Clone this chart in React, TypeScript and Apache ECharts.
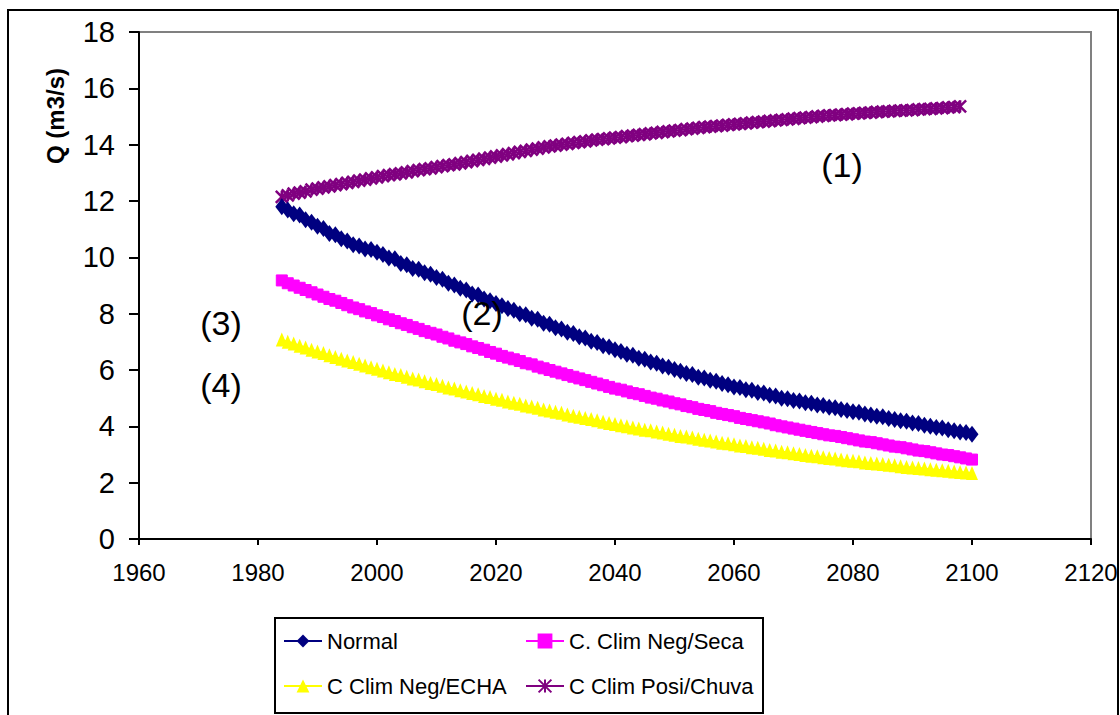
import React, { useEffect, useRef } from "react";
import * as echarts from "echarts";

const startYear = 1984;
const xTicks = [1960, 1980, 2000, 2020, 2040, 2060, 2080, 2100, 2120];
const yTicks = [0, 2, 4, 6, 8, 10, 12, 14, 16, 18];

const seriesNames = ["Normal", "C. Clim Neg/Seca", "C Clim Neg/ECHA", "C Clim Posi/Chuva"];

// 1984..2100
const normal = [
  11.8, 11.68, 11.55, 11.5, 11.33, 11.25, 11.1, 11.02, 10.85, 10.8,
  10.66, 10.58, 10.45, 10.4, 10.3, 10.28, 10.18, 10.1, 9.98, 9.95,
  9.78, 9.74, 9.6, 9.58, 9.45, 9.4, 9.28, 9.22, 9.08, 9.02,
  8.9, 8.84, 8.7, 8.66, 8.52, 8.46, 8.36, 8.28, 8.18, 8.12,
  8.0, 7.96, 7.84, 7.8, 7.66, 7.62, 7.5, 7.46, 7.34, 7.3,
  7.18, 7.14, 7.02, 6.98, 6.86, 6.82, 6.72, 6.66, 6.56, 6.52,
  6.42, 6.38, 6.28, 6.24, 6.14, 6.1, 6.02, 5.96, 5.88, 5.84,
  5.74, 5.72, 5.64, 5.6, 5.52, 5.48, 5.4, 5.38, 5.3, 5.28,
  5.2, 5.18, 5.1, 5.08, 5.0, 4.98, 4.92, 4.9, 4.84, 4.82,
  4.76, 4.74, 4.68, 4.66, 4.6, 4.56, 4.52, 4.5, 4.44, 4.4,
  4.36, 4.34, 4.28, 4.24, 4.2, 4.18, 4.12, 4.1, 4.04, 4.0,
  3.96, 3.94, 3.88, 3.84, 3.8, 3.78, 3.72,
];

// 1984..2100
const seca = [
  9.18, 9.08, 9.0, 8.92, 8.84, 8.76, 8.68, 8.6, 8.52, 8.46,
  8.38, 8.3, 8.22, 8.16, 8.08, 8.02, 7.94, 7.88, 7.8, 7.74,
  7.66, 7.6, 7.52, 7.46, 7.38, 7.32, 7.26, 7.18, 7.12, 7.04,
  6.98, 6.92, 6.84, 6.78, 6.72, 6.64, 6.58, 6.5, 6.44, 6.38,
  6.32, 6.24, 6.2, 6.12, 6.06, 6.0, 5.94, 5.88, 5.82, 5.76,
  5.7, 5.64, 5.58, 5.52, 5.46, 5.4, 5.34, 5.3, 5.24, 5.18,
  5.14, 5.08, 5.02, 4.98, 4.92, 4.88, 4.82, 4.78, 4.72, 4.68,
  4.62, 4.58, 4.54, 4.48, 4.44, 4.4, 4.36, 4.3, 4.26, 4.22,
  4.18, 4.14, 4.1, 4.04, 4.0, 3.96, 3.92, 3.88, 3.84, 3.8,
  3.76, 3.72, 3.68, 3.66, 3.62, 3.58, 3.54, 3.5, 3.46, 3.44,
  3.4, 3.36, 3.32, 3.28, 3.26, 3.22, 3.18, 3.14, 3.12, 3.08,
  3.04, 3.0, 2.98, 2.94, 2.9, 2.86, 2.82,
];

// 1984..2100
const echa = [
  7.08, 7.0, 6.94, 6.86, 6.8, 6.72, 6.66, 6.6, 6.52, 6.46,
  6.4, 6.34, 6.28, 6.22, 6.16, 6.1, 6.04, 5.98, 5.92, 5.86,
  5.82, 5.76, 5.7, 5.66, 5.6, 5.54, 5.5, 5.44, 5.38, 5.34,
  5.28, 5.24, 5.18, 5.14, 5.08, 5.04, 4.98, 4.94, 4.88, 4.84,
  4.8, 4.74, 4.7, 4.66, 4.6, 4.56, 4.52, 4.48, 4.42, 4.38,
  4.34, 4.3, 4.26, 4.22, 4.16, 4.12, 4.08, 4.04, 4.0, 3.96,
  3.92, 3.88, 3.86, 3.82, 3.78, 3.74, 3.7, 3.66, 3.64, 3.6,
  3.56, 3.52, 3.5, 3.46, 3.42, 3.4, 3.36, 3.32, 3.3, 3.26,
  3.24, 3.2, 3.16, 3.14, 3.1, 3.08, 3.04, 3.02, 2.98, 2.96,
  2.94, 2.9, 2.88, 2.86, 2.82, 2.8, 2.78, 2.76, 2.72, 2.7,
  2.68, 2.66, 2.64, 2.62, 2.58, 2.56, 2.54, 2.52, 2.5, 2.48,
  2.46, 2.44, 2.42, 2.4, 2.38, 2.36, 2.34,
];

// 1984..2098
const chuva = [
  12.15, 12.2, 12.26, 12.3, 12.34, 12.4, 12.44, 12.48, 12.52, 12.56,
  12.6, 12.64, 12.68, 12.72, 12.76, 12.8, 12.84, 12.88, 12.92, 12.95,
  12.98, 13.02, 13.06, 13.1, 13.13, 13.16, 13.2, 13.24, 13.27, 13.3,
  13.34, 13.38, 13.42, 13.46, 13.5, 13.54, 13.58, 13.62, 13.66, 13.7,
  13.74, 13.78, 13.82, 13.86, 13.9, 13.94, 13.97, 14.0, 14.03, 14.06,
  14.09, 14.12, 14.15, 14.18, 14.2, 14.22, 14.25, 14.27, 14.3, 14.32,
  14.35, 14.37, 14.4, 14.42, 14.45, 14.47, 14.5, 14.52, 14.55, 14.57,
  14.6, 14.62, 14.64, 14.66, 14.68, 14.7, 14.72, 14.74, 14.76, 14.78,
  14.8, 14.82, 14.84, 14.86, 14.88, 14.9, 14.92, 14.94, 14.96, 14.98,
  15.0, 15.02, 15.04, 15.05, 15.07, 15.08, 15.1, 15.11, 15.13, 15.14,
  15.16, 15.17, 15.18, 15.2, 15.21, 15.22, 15.23, 15.25, 15.26, 15.27,
  15.29, 15.3, 15.32, 15.33, 15.36,
];

const annotations = ["(1)", "(2)", "(3)", "(4)"];

const FONT = "'Liberation Sans', Arial, sans-serif";

const toPairs = (vals: number[]) => vals.map((v, i) => [startYear + i, v]);

export default function App() {
  const ref = useRef<HTMLDivElement>(null);
  useEffect(() => {
    document.body.style.margin = "0";
    if (!ref.current) return;
    const chart = echarts.init(ref.current, null, { renderer: "svg" });
    const legendText = { fontFamily: FONT, fontSize: 22, color: "#000" };
    const mkLegend = (name: string, left: number, top: number) => ({
      data: [name],
      left,
      top,
      orient: "horizontal",
      itemWidth: 38,
      itemHeight: 16,
      textStyle: legendText,
      padding: 0,
      z: 5,
    });
    const annot = (text: string, x: number, y: number) => ({
      type: "text",
      x,
      y,
      z: 10,
      style: { text, font: `34px ${FONT}`, fill: "#000", align: "center", verticalAlign: "middle" },
    });
    const option: any = {
      animation: false,
      backgroundColor: "#fff",
      grid: {
        left: 139,
        top: 32,
        right: 29,
        bottom: 176,
        containLabel: false,
        outerBoundsMode: "none",
        show: true,
        borderColor: "#808080",
        borderWidth: 2,
        backgroundColor: "#fff",
      },
      xAxis: {
        type: "value",
        min: xTicks[0],
        max: xTicks[xTicks.length - 1],
        interval: 20,
        axisLine: { show: true, lineStyle: { color: "#000", width: 2 } },
        axisTick: { show: true, inside: false, length: 6, lineStyle: { color: "#000", width: 2 } },
        axisLabel: {
          fontFamily: FONT,
          fontSize: 24,
          color: "#000",
          margin: 21,
          formatter: (v: number) => String(v),
        },
        splitLine: { show: false },
      },
      yAxis: {
        type: "value",
        min: yTicks[0],
        max: yTicks[yTicks.length - 1],
        interval: 2,
        axisLine: { show: true, lineStyle: { color: "#000", width: 2 } },
        axisTick: { show: true, inside: false, length: 10, lineStyle: { color: "#000", width: 2 } },
        axisLabel: {
          fontFamily: FONT,
          fontSize: 29,
          color: "#000",
          margin: 24,
          formatter: (v: number) => String(v),
        },
        splitLine: { show: false },
      },
      legend: [
        mkLegend(seriesNames[0], 283, 630),
        mkLegend(seriesNames[1], 525, 630),
        mkLegend(seriesNames[2], 283, 675),
        mkLegend(seriesNames[3], 525, 675),
      ],
      graphic: [
        {
          type: "rect",
          z: 0,
          silent: true,
          shape: { x: 8, y: 10, width: 1110, height: 720 },
          style: { fill: "none", stroke: "#000", lineWidth: 2 },
        },
        {
          type: "rect",
          z: 3,
          silent: true,
          shape: { x: 275, y: 618, width: 488, height: 95 },
          style: { fill: "#fff", stroke: "#000", lineWidth: 2 },
        },
        {
          type: "text",
          x: 55,
          y: 116,
          rotation: Math.PI / 2,
          style: {
            text: "Q (m3/s)",
            font: `bold 24px ${FONT}`,
            fill: "#000",
            align: "center",
            verticalAlign: "middle",
          },
        },
        annot(annotations[0], 842, 165),
        annot(annotations[1], 482, 313),
        annot(annotations[2], 221, 323),
        annot(annotations[3], 221, 385),
      ],
      series: [
        {
          name: seriesNames[0],
          type: "line",
          data: toPairs(normal),
          symbol: "diamond",
          symbolSize: [13, 17],
          showAllSymbol: true,
          lineStyle: { color: "#000080", width: 2 },
          itemStyle: { color: "#000080" },
          z: 3,
        },
        {
          name: seriesNames[1],
          type: "line",
          data: toPairs(seca),
          symbol: "rect",
          symbolSize: 11,
          showAllSymbol: true,
          lineStyle: { color: "#FF00FF", width: 2 },
          itemStyle: { color: "#FF00FF", borderColor: "#FF00FF", borderWidth: 1 },
          z: 2,
        },
        {
          name: seriesNames[2],
          type: "line",
          data: toPairs(echa),
          symbol: "triangle",
          symbolSize: [12, 14],
          showAllSymbol: true,
          lineStyle: { color: "#FFFF00", width: 2 },
          itemStyle: { color: "#FFFF00" },
          z: 2,
        },
        {
          name: seriesNames[3],
          type: "line",
          data: toPairs(chuva),
          symbol: "path://M0,0L10,10M10,0L0,10M5,0L5,10",
          symbolSize: 12,
          showAllSymbol: true,
          lineStyle: { color: "#800080", width: 2 },
          itemStyle: { color: "#800080", borderColor: "#800080", borderWidth: 2.5 },
          z: 2,
        },
      ],
    };
    chart.setOption(option);
    return () => chart.dispose();
  }, []);
  return <div ref={ref} style={{ width: 1120, height: 715 }} />;
}
